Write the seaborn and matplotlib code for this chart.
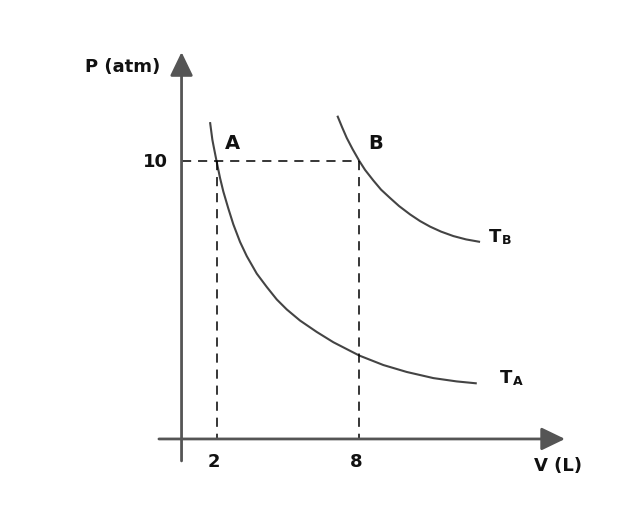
import matplotlib
matplotlib.use("Agg")
import matplotlib.pyplot as plt
import seaborn as sns
import pandas as pd

# isotherm points (V in L, P in atm)
va = [1.727, 1.824, 1.866, 2.0, 2.147, 2.286, 2.496, 2.706, 2.987, 3.269, 3.689,
      4.109, 4.529, 4.95, 5.508, 6.21, 6.908, 8.0, 9.008, 9.992, 11.109, 12.092, 12.933]
pa = [11.40, 10.77, 10.58, 10.0, 9.39, 8.90, 8.29, 7.72, 7.09, 6.58, 5.95,
      5.47, 5.02, 4.66, 4.26, 3.85, 3.48, 3.0, 2.66, 2.41, 2.19, 2.07, 2.0]
vb = [7.076, 7.273, 7.471, 7.714, 8.0, 8.24, 8.588, 8.912, 9.29, 9.668, 10.13,
      10.55, 10.971, 11.433, 11.95, 12.483, 13.071]
pb = [11.63, 11.22, 10.83, 10.43, 10.0, 9.68, 9.3, 8.97, 8.67, 8.38, 8.08,
      7.84, 7.64, 7.46, 7.3, 7.18, 7.09]

# states A and B
state_names = ["A", "B"]
state_v = [2, 8]
state_p = [10, 10]

xticks = [2, 8]
yticks = [10]

sns.set_style("white")
plt.rcParams['font.family'] = ['DejaVu Sans']
plt.rcParams['font.weight'] = 'bold'
plt.rcParams['text.color'] = '#111111'

fig = plt.figure(figsize=(6.4, 5.1), dpi=100)
ax = fig.add_axes([0, 0, 1, 1])
ax.set_xlim(-7.097, 19.79)
ax.set_ylim(-2.52, 15.83)
ax.axis('off')

df_a = pd.DataFrame({'V': va, 'P': pa})
df_b = pd.DataFrame({'V': vb, 'P': pb})
for d in (df_a, df_b):
    sns.lineplot(data=d, x='V', y='P', ax=ax, color='#444444', lw=1.5, sort=False,
                 solid_joinstyle='round', solid_capstyle='butt')

# axes with arrows
for tip, start in [((16.64, 0), (-0.42, 0)), ((0.53, 13.92), (0.53, -0.79))]:
    ax.annotate('', xy=tip, xytext=start,
                arrowprops=dict(arrowstyle='-|>,head_length=1.45,head_width=0.7',
                                mutation_scale=10, color='#555555', lw=2.0,
                                shrinkA=0, shrinkB=0))

# dashed guides
dash = (0, (6, 4.5))
ax.plot([0.53, state_v[1]], [state_p[0], state_p[1]], color='black', lw=1.1, linestyle=dash)
for v in state_v:
    ax.plot([v, v], [10, 0], color='black', lw=1.1, linestyle=dash)

fs = 13
ax.text(-1.93, 13.43, 'P (atm)', ha='center', va='center', fontsize=fs, fontweight='bold')
ax.text(16.35, -0.95, 'V (L)', ha='center', va='center', fontsize=fs, fontweight='bold')
for t in yticks:
    ax.text(-0.05, t, str(t), ha='right', va='center', fontsize=fs, fontweight='bold')
for t in xticks:
    ax.text(t - 0.13, -0.8, str(t), ha='center', va='center', fontsize=fs, fontweight='bold')

for name, v, p in zip(state_names, state_v, state_p):
    ax.text(v + 0.69, p + 0.68, name, ha='center', va='center', fontsize=fs + 1, fontweight='bold')

ax.text(14.15, 2.23, 'T', ha='center', va='center', fontsize=fs, fontweight='bold')
ax.text(14.65, 2.10, 'A', ha='center', va='center', fontsize=fs - 4, fontweight='bold')
ax.text(13.70, 7.29, 'T', ha='center', va='center', fontsize=fs, fontweight='bold')
ax.text(14.20, 7.19, 'B', ha='center', va='center', fontsize=fs - 4, fontweight='bold')

fig.savefig('out.png', dpi=100)
